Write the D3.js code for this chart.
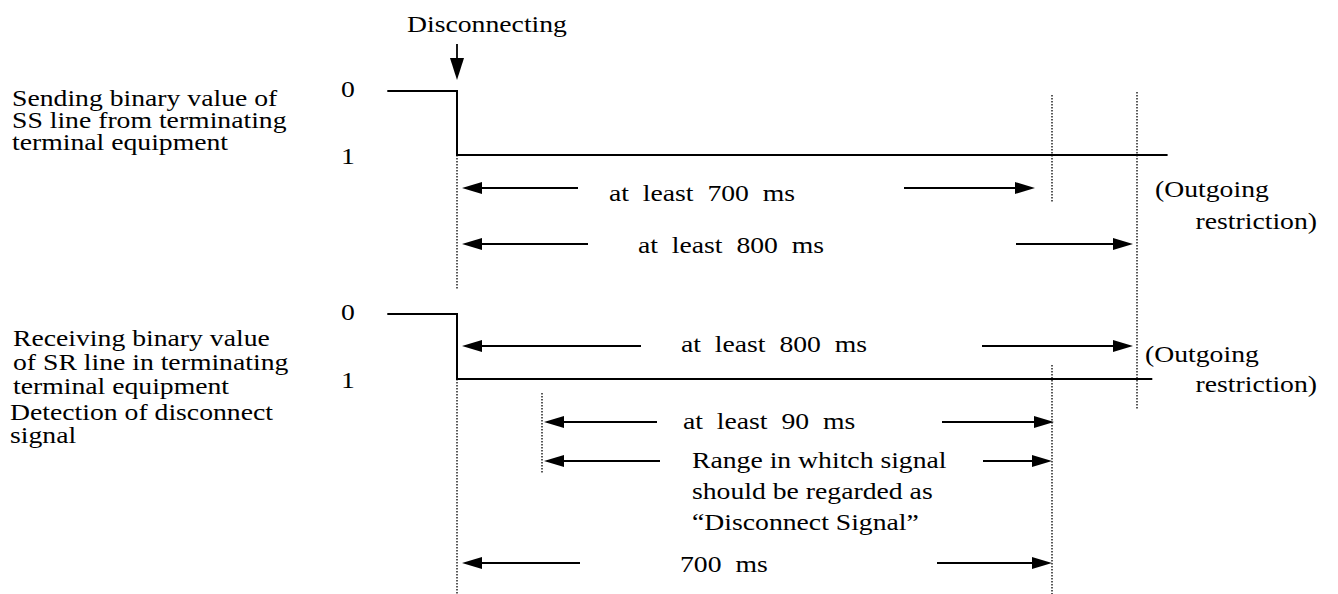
<!DOCTYPE html>
<html>
<head>
<meta charset="utf-8">
<script src="https://cdn.jsdelivr.net/npm/d3@7"></script>
<style>
  body { margin: 0; background: #fff; }
  svg text { font-family: 'Liberation Serif', 'Times New Roman', 'Liberation Sans', sans-serif; font-size: 24px; fill: #000; white-space: pre; }
</style>
</head>
<body>
<div id="container"></div>
<script>
const WIDTH = 1338;
const HEIGHT = 594;

// text of the diagram
const eventLabel = 'Disconnecting';
const levels = ['0', '1'];
const ssTitle = ['Sending binary value of', 'SS line from terminating', 'terminal equipment'];
const srTitle = ['Receiving binary value', 'of SR line in terminating', 'terminal equipment'];
const detectTitle = ['Detection of disconnect', 'signal'];
const outgoingNote = ['(Outgoing', 'restriction)'];

// signal traces, time in ms, value 0/1
const ssSignal = [{ t: -82, v: 0 }, { t: 0, v: 0 }, { t: 0, v: 1 }, { t: 836, v: 1 }];
const srSignal = [{ t: -82, v: 0 }, { t: 0, v: 0 }, { t: 0, v: 1 }, { t: 818, v: 1 }];

// timing spans (ms)
const ssSpans = [
  { label: ['at  least  700  ms'], from: 0, to: 700 },
  { label: ['at  least  800  ms'], from: 0, to: 800 }
];
const srSpans = [
  { label: ['at  least  800  ms'], from: 0, to: 800 },
  { label: ['at  least  90  ms'], from: 100, to: 700 },
  { label: ['Range in whitch signal', 'should be regarded as', '\u201CDisconnect Signal\u201D'], from: 100, to: 700 },
  { label: ['700  ms'], from: 0, to: 700 }
];

// dotted guide times (ms)
const ssMarks = [0, 700, 800];
const srMarks = [0, 100, 700];

// layout only (pixels)
const ssRows = [
  { y: 188, textX: 609, textY: 201, leftTail: 578, rightTail: 904, tipGap: 17 },
  { y: 244, textX: 638, textY: 253, leftTail: 588, rightTail: 1016, tipGap: 4 }
];
const srRows = [
  { y: 346, textX: 681, textY: 352, leftTail: 641, rightTail: 982, tipGap: 4 },
  { y: 422, textX: 683, textY: 429, leftTail: 657, rightTail: 942, tipGap: -2 },
  { y: 461, textX: 692, textY: 468, leftTail: 660, rightTail: 983, tipGap: 0 },
  { y: 563, textX: 680, textY: 572, leftTail: 580, rightTail: 937, tipGap: 0 }
];
const ssGuides = [[155, 290], [95, 202], [92, 410]];
const srGuides = [[379, 594], [393, 473], [365, 594]];

const x = d3.scaleLinear().domain([0, 800]).range([457, 1137]);
const ySS = d3.scaleLinear().domain([0, 1]).range([91, 155]);
const ySR = d3.scaleLinear().domain([0, 1]).range([314, 379]);

const svg = d3.select('#container')
  .append('svg')
    .attr('width', WIDTH)
    .attr('height', HEIGHT);

// work out how much to stretch text sideways: "Disconnecting" is ~160px wide in the original
const probe = svg.append('text').text(eventLabel);
const sx = 160 / probe.node().getComputedTextLength();
probe.remove();

function writeLines(lines, x0, y0, dy, anchor) {
  const g = svg.append('g');
  lines.forEach((s, i) => {
    g.append('text')
      .attr('transform', `translate(${x0},${y0 + i * dy}) scale(${sx},1)`)
      .attr('text-anchor', anchor || 'start')
      .text(s);
  });
}

function arrow(x1, x2, y) {
  const dir = x2 > x1 ? 1 : -1;
  svg.append('line')
    .attr('x1', x1).attr('x2', x2 - dir * 16)
    .attr('y1', y).attr('y2', y)
    .attr('stroke', '#000')
    .attr('stroke-width', 1.8);
  svg.append('path')
    .attr('d', `M${x2},${y}L${x2 - dir * 20},${y - 6}L${x2 - dir * 20},${y + 6}Z`)
    .attr('fill', '#000');
}

function guides(marks, extents) {
  marks.forEach((t, i) => {
    svg.append('line')
      .attr('x1', x(t)).attr('x2', x(t))
      .attr('y1', extents[i][0]).attr('y2', extents[i][1])
      .attr('stroke', '#000')
      .attr('stroke-width', 1.3)
      .attr('stroke-dasharray', '1.5,1.5');
  });
}

function signal(data, y) {
  const line = d3.line().x(d => x(d.t)).y(d => y(d.v));
  svg.append('path')
    .datum(data)
    .attr('d', line)
    .attr('fill', 'none')
    .attr('stroke', '#000')
    .attr('stroke-width', 2);
  levels.forEach((l, i) => {
    svg.append('text')
      .attr('transform', `translate(348,${y(i) + (i ? 9 : 6)}) scale(${sx},1)`)
      .attr('text-anchor', 'middle')
      .text(l);
  });
}

function spans(data, rows) {
  data.forEach((d, i) => {
    const r = rows[i];
    arrow(r.leftTail, x(d.from) + (d.from ? 2 : 5), r.y);
    arrow(r.rightTail, x(d.to) - r.tipGap, r.y);
    writeLines(d.label, r.textX, r.textY, 31);
  });
}

// event marker
writeLines([eventLabel], 487, 32, 0, 'middle');
svg.append('line')
  .attr('x1', x(0)).attr('x2', x(0))
  .attr('y1', 44).attr('y2', 64)
  .attr('stroke', '#000').attr('stroke-width', 1.8);
svg.append('path')
  .attr('d', `M${x(0)},80L${x(0) - 7},58L${x(0) + 7},58Z`)
  .attr('fill', '#000');

// SS panel
writeLines(ssTitle, 12, 106, 22);
guides(ssMarks, ssGuides);
signal(ssSignal, ySS);
spans(ssSpans, ssRows);
writeLines(outgoingNote.slice(0, 1), 1155, 197, 0);
writeLines(outgoingNote.slice(1), 1317, 229, 0, 'end');

// SR panel
writeLines(srTitle, 13, 346, 24);
writeLines(detectTitle, 10, 420, 23);
guides(srMarks, srGuides);
signal(srSignal, ySR);
spans(srSpans, srRows);
writeLines(outgoingNote.slice(0, 1), 1145, 362, 0);
writeLines(outgoingNote.slice(1), 1317, 392, 0, 'end');
</script>
</body>
</html>
